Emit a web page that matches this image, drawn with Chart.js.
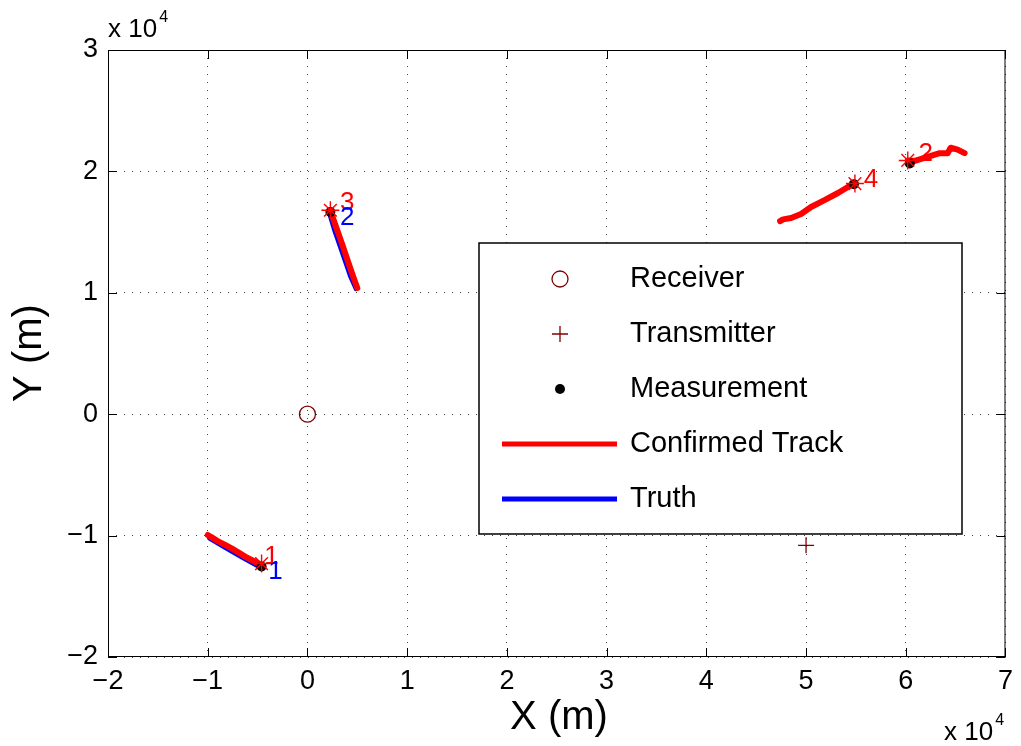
<!DOCTYPE html>
<html>
<head>
<meta charset="utf-8">
<script src="https://cdn.jsdelivr.net/npm/chart.js@4/dist/chart.umd.min.js"></script>
<style>
  body { margin: 0; background: #fff; }
  #wrap { width: 1021px; height: 746px; }
</style>
</head>
<body>
<div id="wrap"><canvas id="track-chart"></canvas></div>
<script>
// axis ticks (metres)
var xTicks = [-20000, -10000, 0, 10000, 20000, 30000, 40000, 50000, 60000, 70000];
var yTicks = [-20000, -10000, 0, 10000, 20000, 30000];

var receiver = [{x: 0, y: 0}];
var transmitter = [{x: 50000, y: -10800}];

// confirmed tracks
var track1 = [{x:-10000,y:-9950},{x:-9600,y:-10150},{x:-9000,y:-10450},{x:-8300,y:-10750},{x:-7600,y:-11050},
  {x:-6900,y:-11400},{x:-6200,y:-11750},{x:-5500,y:-12050},{x:-4900,y:-12300},{x:-4600,y:-12450}];
var track2 = [{x:60200,y:20900},{x:60900,y:20860},{x:62200,y:21200},{x:63400,y:21500},{x:64200,y:21500},
  {x:64500,y:21950},{x:65200,y:21800},{x:65900,y:21500}];
var track3 = [{x:2300,y:16750},{x:2900,y:15350},{x:3500,y:13950},{x:4100,y:12500},{x:4600,y:11300},
  {x:5000,y:10400}];
var track4 = [{x:47400,y:15900},{x:47700,y:16050},{x:48500,y:16160},{x:49500,y:16490},{x:50500,y:17070},
  {x:51900,y:17650},{x:53200,y:18220},{x:54200,y:18720},{x:54900,y:19040}];

// truth
var truth1 = [{x:-9850,y:-10250},{x:-8200,y:-11050},{x:-6500,y:-11850},{x:-4500,y:-12750}];
var truth2 = [{x:2150,y:16600},{x:2700,y:15100},{x:3500,y:13200},{x:4300,y:11300},{x:4850,y:10300}];

var measurements = [{x:-4600,y:-12550},{x:2300,y:16650},{x:54800,y:18950},{x:60400,y:20650}];
var trackHeads = [{x:-4600,y:-12300},{x:2300,y:16800},{x:54900,y:19000},{x:60200,y:20900}];

// track id labels
var trackLabels = ["1", "3", "4", "2"];
var trackLabelPos = [{x:-3600,y:-11760},{x:4000,y:17400},{x:56500,y:19300},{x:62000,y:21450}];
var truthLabels = ["1", "2"];
var truthLabelPos = [{x:-3200,y:-13000},{x:4000,y:16150}];

var legendLabels = ["Receiver", "Transmitter", "Measurement", "Confirmed Track", "Truth"];

var FONT = "'Liberation Sans', Arial, sans-serif";
var DARKRED = "#800000";

function lineSet(pts, color, w) {
  return { data: pts, showLine: true, borderColor: color, backgroundColor: color, borderWidth: w,
    pointRadius: 0, borderCapStyle: "round", borderJoinStyle: "round", fill: false };
}

function expNote(ctx, x, y, size) {
  ctx.font = size + "px " + FONT;
  ctx.fillText("x 10", x, y);
  var w = ctx.measureText("x 10").width;
  ctx.font = Math.round(size * 0.6) + "px " + FONT;
  ctx.fillText("4", x + w + 2, y - size * 0.58);
}

var extras = {
  id: "extras",
  afterDraw: function(chart) {
    var ctx = chart.ctx, a = chart.chartArea;
    var xs = chart.scales.x, ys = chart.scales.y;
    ctx.save();
    // box + inner ticks
    ctx.strokeStyle = "#000";
    ctx.lineWidth = 1;
    ctx.strokeRect(a.left + 0.5, a.top + 0.5, a.right - a.left - 1, a.bottom - a.top - 1);
    ctx.beginPath();
    xTicks.forEach(function(v) {
      var px = Math.round(xs.getPixelForValue(v)) + 0.5;
      ctx.moveTo(px, a.bottom); ctx.lineTo(px, a.bottom - 9);
      ctx.moveTo(px, a.top); ctx.lineTo(px, a.top + 9);
    });
    yTicks.forEach(function(v) {
      var py = Math.round(ys.getPixelForValue(v)) + 0.5;
      ctx.moveTo(a.left, py); ctx.lineTo(a.left + 9, py);
      ctx.moveTo(a.right, py); ctx.lineTo(a.right - 9, py);
    });
    ctx.stroke();

    // track numbers
    ctx.font = "26px " + FONT;
    ctx.textAlign = "center";
    ctx.textBaseline = "middle";
    ctx.fillStyle = "#ff0000";
    trackLabels.forEach(function(t, i) {
      ctx.fillText(t, xs.getPixelForValue(trackLabelPos[i].x), ys.getPixelForValue(trackLabelPos[i].y));
    });
    ctx.fillStyle = "#0000ff";
    truthLabels.forEach(function(t, i) {
      ctx.fillText(t, xs.getPixelForValue(truthLabelPos[i].x), ys.getPixelForValue(truthLabelPos[i].y));
    });

    // legend
    var lx = 479, ly = 243, lw = 483, lh = 291;
    ctx.fillStyle = "#fff";
    ctx.fillRect(lx, ly, lw, lh);
    ctx.strokeStyle = "#000";
    ctx.lineWidth = 1.5;
    ctx.strokeRect(lx, ly, lw, lh);
    var sx = 560;
    ctx.font = "29px " + FONT;
    ctx.textAlign = "left";
    legendLabels.forEach(function(t, i) {
      var yy = 279 + i * 55;
      ctx.fillStyle = "#000";
      ctx.fillText(t, 630, yy);
      if (i === 0) {
        ctx.strokeStyle = DARKRED; ctx.lineWidth = 1.3;
        ctx.beginPath(); ctx.arc(sx, yy, 8, 0, Math.PI * 2); ctx.stroke();
      } else if (i === 1) {
        ctx.strokeStyle = DARKRED; ctx.lineWidth = 1.3;
        ctx.beginPath(); ctx.moveTo(sx - 8, yy); ctx.lineTo(sx + 8, yy);
        ctx.moveTo(sx, yy - 8); ctx.lineTo(sx, yy + 8); ctx.stroke();
      } else if (i === 2) {
        ctx.fillStyle = "#000";
        ctx.beginPath(); ctx.arc(sx, yy, 5, 0, Math.PI * 2); ctx.fill();
      } else {
        ctx.strokeStyle = i === 3 ? "#ff0000" : "#0000ff"; ctx.lineWidth = 5;
        ctx.beginPath(); ctx.moveTo(502, yy); ctx.lineTo(617, yy); ctx.stroke();
      }
    });

    // axis titles
    ctx.fillStyle = "#000";
    ctx.font = "40px " + FONT;
    ctx.textAlign = "center";
    ctx.fillText("X (m)", 559, 718);
    ctx.save();
    ctx.translate(30, 353);
    ctx.rotate(-Math.PI / 2);
    ctx.fillText("Y (m)", 0, 0);
    ctx.restore();

    // exponent notes
    ctx.textAlign = "left";
    ctx.textBaseline = "alphabetic";
    expNote(ctx, 108, 37, 26);
    expNote(ctx, 944, 740, 26);
    ctx.restore();
  }
};

function fmt(v) {
  var s = String(v / 10000);
  return s.replace("-", "\u2212");
}

new Chart(document.getElementById("track-chart"), {
  type: "scatter",
  data: {
    datasets: [
      { data: trackHeads, pointStyle: "star", pointRadius: 9, borderColor: "#ff0000", borderWidth: 1.4, backgroundColor: "#ff0000" },
      { data: measurements, pointStyle: "circle", pointRadius: 5, borderColor: "#000", backgroundColor: "#000", borderWidth: 0 },
      { data: receiver, pointStyle: "circle", pointRadius: 8, borderColor: DARKRED, backgroundColor: "rgba(0,0,0,0)", borderWidth: 1.3 },
      { data: transmitter, pointStyle: "cross", pointRadius: 8, borderColor: DARKRED, borderWidth: 1.3 },
      lineSet(track1, "#ff0000", 6),
      lineSet(track2, "#ff0000", 6),
      lineSet(track3, "#ff0000", 6),
      lineSet(track4, "#ff0000", 6),
      lineSet(truth1, "#0000ff", 4),
      lineSet(truth2, "#0000ff", 4)
    ]
  },
  options: {
    responsive: true,
    maintainAspectRatio: false,
    animation: false,
    events: [],
    devicePixelRatio: 1,
    layout: { padding: { left: 0, right: 13, top: 50, bottom: 0 } },
    plugins: { legend: { display: false }, tooltip: { enabled: false } },
    scales: {
      x: {
        type: "linear", min: -20000, max: 70000,
        afterBuildTicks: function(s) { s.ticks = xTicks.map(function(v) { return {value: v}; }); },
        afterFit: function(s) { s.height = 89; },
        grid: { color: "#444", lineWidth: 1, drawTicks: false },
        border: { display: false, dash: [1, 7] },
        ticks: { color: "#000", font: { size: 27, family: FONT }, padding: 8, maxRotation: 0, callback: fmt }
      },
      y: {
        type: "linear", min: -20000, max: 30000,
        afterBuildTicks: function(s) { s.ticks = yTicks.map(function(v) { return {value: v}; }); },
        afterFit: function(s) { s.width = 108; },
        grid: { color: "#444", lineWidth: 1, drawTicks: false },
        border: { display: false, dash: [1, 7] },
        ticks: { color: "#000", font: { size: 27, family: FONT }, padding: 10, callback: fmt }
      }
    }
  },
  plugins: [extras]
});
</script>
</body>
</html>
